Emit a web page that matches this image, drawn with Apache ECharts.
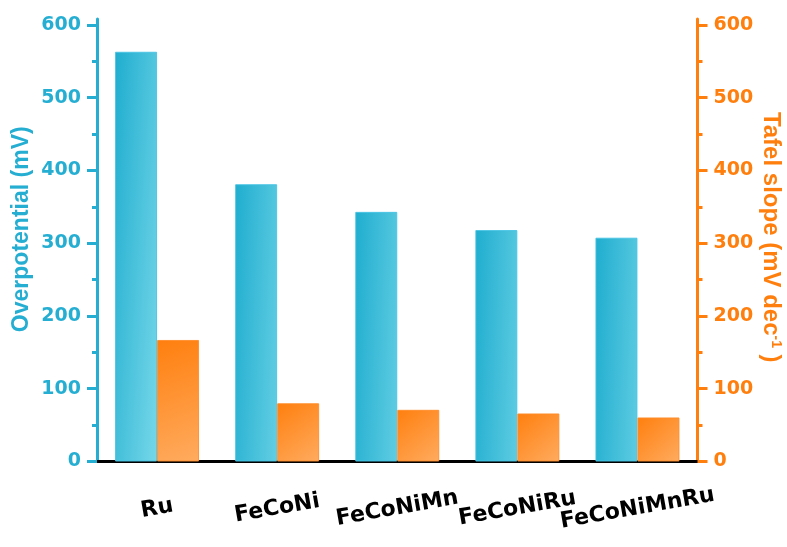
<!DOCTYPE html>
<html>
<head>
<meta charset="utf-8">
<title>Overpotential and Tafel slope</title>
<script src="https://cdn.jsdelivr.net/npm/echarts@6/dist/echarts.min.js"></script>
<style>
  html, body { margin: 0; padding: 0; background: #ffffff; }
  #chart { width: 787px; height: 547px; }
</style>
</head>
<body>
<div id="chart"></div>
<script>
// Catalysts on the category axis
const categories = ['Ru', 'FeCoNi', 'FeCoNiMn', 'FeCoNiRu', 'FeCoNiMnRu'];
// Overpotential (mV), left axis
const overpotential = [563, 381, 343, 318, 307.5];
// Tafel slope (mV dec^-1), right axis
const tafelSlope = [167, 80, 71, 66, 60.5];
// Tick values shared by both value axes
const majorTicks = [0, 100, 200, 300, 400, 500, 600];
const minorTicks = [50, 150, 250, 350, 450, 550];
const axisMax = 608;

const CYAN = '#25aed2';
const ORANGE = '#ff7f0e';
const TICK_FONT = 'DejaVu Sans';
const TITLE_FONT = 'Liberation Sans';

function valueAxis(opts) {
  return Object.assign({
    type: 'value',
    min: 0,
    max: axisMax,
    splitLine: { show: false }
  }, opts);
}

const chart = echarts.init(document.getElementById('chart'));
chart.setOption({
  animation: false,
  backgroundColor: '#ffffff',
  grid: {
    left: 97, right: 89.5, top: 19, bottom: 85.5,
    containLabel: false,
    outerBoundsMode: 'none'
  },
  xAxis: [
    {
      type: 'category',
      data: categories,
      position: 'bottom',
      axisLine: { lineStyle: { color: '#000000', width: 3 } },
      axisTick: { alignWithLabel: true, length: 8, lineStyle: { color: '#000000', width: 3 } },
      axisLabel: {
        interval: 0,
        rotate: 10,
        align: 'center',
        verticalAlign: 'middle',
        margin: 47,
        color: '#000000',
        fontFamily: TICK_FONT,
        fontWeight: 'bold',
        fontSize: 22
      }
    },
    {
      // top frame line
      type: 'category',
      data: categories,
      position: 'top',
      axisLine: { lineStyle: { color: '#000000', width: 3 } },
      axisTick: { show: false },
      axisLabel: { show: false }
    }
  ],
  yAxis: [
    valueAxis({
      position: 'left',
      name: 'Overpotential (mV)',
      nameLocation: 'middle',
      nameRotate: 90,
      nameGap: 64,
      nameMoveOverlap: false,
      nameTextStyle: {
        color: CYAN, fontFamily: TITLE_FONT, fontWeight: 'bold', fontSize: 23,
        padding: [0, 0, 0, 22]
      },
      axisLine: { show: true, lineStyle: { color: CYAN, width: 3 } },
      axisTick: { show: true, customValues: majorTicks, length: 10, lineStyle: { color: CYAN, width: 3 } },
      axisLabel: {
        customValues: majorTicks, margin: 16, color: CYAN,
        fontFamily: TICK_FONT, fontWeight: 'bold', fontSize: 19
      }
    }),
    valueAxis({
      // minor ticks, left side
      position: 'left',
      axisLine: { show: false },
      axisTick: { show: true, customValues: minorTicks, length: 5, lineStyle: { color: CYAN, width: 3 } },
      axisLabel: { show: false }
    }),
    valueAxis({
      position: 'right',
      name: 'Tafel slope (mV dec{sup|-1} )',
      nameLocation: 'middle',
      nameRotate: -90,
      nameGap: 61,
      nameMoveOverlap: false,
      nameTextStyle: {
        color: ORANGE, fontFamily: TITLE_FONT, fontWeight: 'bold', fontSize: 24,
        padding: [0, 6, 0, 0],
        rich: {
          sup: {
            color: ORANGE, fontFamily: TITLE_FONT, fontWeight: 'bold', fontSize: 14,
            verticalAlign: 'top', padding: [0, 0, 10, 0]
          }
        }
      },
      axisLine: { show: true, lineStyle: { color: ORANGE, width: 3 } },
      axisTick: { show: true, customValues: majorTicks, length: 10, lineStyle: { color: ORANGE, width: 3 } },
      axisLabel: {
        customValues: majorTicks, margin: 16, color: ORANGE,
        fontFamily: TICK_FONT, fontWeight: 'bold', fontSize: 19
      }
    }),
    valueAxis({
      // minor ticks, right side
      position: 'right',
      axisLine: { show: false },
      axisTick: { show: true, customValues: minorTicks, length: 5, lineStyle: { color: ORANGE, width: 3 } },
      axisLabel: { show: false }
    })
  ],
  series: [
    {
      name: 'Overpotential',
      type: 'bar',
      xAxisIndex: 0,
      yAxisIndex: 0,
      data: overpotential,
      barWidth: 42,
      barGap: '0%',
      itemStyle: {
        color: new echarts.graphic.LinearGradient(0, 0, 1.66, 0.012, [
          { offset: 0, color: '#1fadcf' },
          { offset: 1, color: '#75d7e9' }
        ]),
        borderColor: 'rgba(70,195,228,0.9)',
        borderWidth: 1
      }
    },
    {
      name: 'Tafel slope',
      type: 'bar',
      xAxisIndex: 0,
      yAxisIndex: 2,
      data: tafelSlope,
      barWidth: 42,
      barGap: '0%',
      itemStyle: {
        color: new echarts.graphic.LinearGradient(0, 0, 1, 1, [
          { offset: 0, color: '#ff7f0e' },
          { offset: 1, color: '#ffab5f' }
        ]),
        borderColor: 'rgba(255,140,40,0.9)',
        borderWidth: 1
      }
    }
  ]
});
</script>
</body>
</html>
